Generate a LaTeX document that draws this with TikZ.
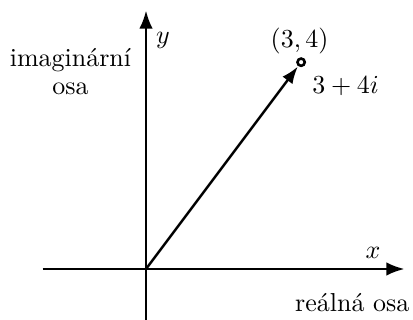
\documentclass[tikz,border=0pt]{standalone}
\usepackage{amsmath}
\usepackage{tikz}
\usetikzlibrary{arrows.meta,positioning}
\definecolor{ink}{HTML}{000000}
\tikzset{
  axisarr/.style={-{Latex[length=7pt,width=5.2pt]},line width=0.95pt,
                  draw=ink},
  vecarr/.style={-{Latex[length=6.6pt,width=4.8pt]},line width=0.95pt,
                 draw=ink,shorten >=0.2pt},
  endpt/.style={circle,draw=ink,fill=white,line width=1pt,
                minimum size=2.8pt,inner sep=0pt},
  lbl/.style={inner sep=0pt,text=ink}
}

\begin{document}
\begin{tikzpicture}[x=0.7cm,y=0.7cm,>=Latex]
    \path[use as bounding box] (-2.824,-0.986) rectangle (5.164,5.203);
    \coordinate (O) at (0,0);
    \coordinate (xleft) at (-2,0);
    \coordinate (xright) at (5,0);
    \coordinate (ybot) at (0,-1.05);
    \coordinate (ytop) at (0,5);
    \draw[axisarr] (xleft) -- (xright);
    \draw[axisarr] (ybot) -- (ytop);

    \node[endpt] (P) at (3,4) {};
    \draw[vecarr] (O) -- (P);

    \node[lbl] (xlab) at (4.39,0.32) {$x$};
    \node[lbl] (ylab) at (0.33,4.43) {$y$};
    \node[lbl] (ptlab) at (2.97,4.41) {$(3,4)$};
    \node[lbl] (zlab) at (3.86,3.54) {$3+4i$};
    \node[lbl,align=center] (imlab) at (-1.46,3.81)
      {imagin\'arn\'{\i}\\[-1.2pt]osa};
    \node[lbl] (relab) at (3.99,-0.64) {re\'aln\'a osa};
  \end{tikzpicture}
\end{document}
